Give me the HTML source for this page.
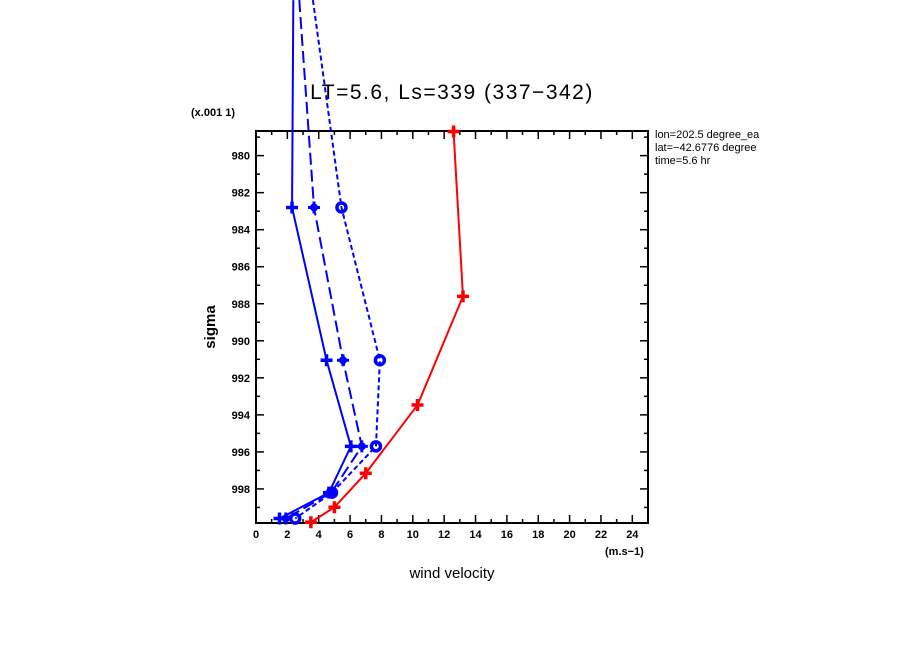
<!DOCTYPE html>
<html><head><meta charset="utf-8"><style>
body{margin:0;background:#fff;}
svg{display:block;font-family:"Liberation Sans",sans-serif;}
</style></head><body>
<svg id="c" width="904" height="654" viewBox="0 0 904 654">
<text x="452" y="99" text-anchor="middle" font-size="21" letter-spacing="1.5">LT=5.6, Ls=339 (337−342)</text>
<text x="191" y="116" font-size="11" font-weight="bold">(x.001 1)</text>
<text x="655" y="138" font-size="11">lon=202.5 degree_ea</text>
<text x="655" y="151" font-size="11">lat=−42.6776 degree</text>
<text x="655" y="164" font-size="11">time=5.6 hr</text>
<rect x="780" y="128" width="124" height="40" fill="#fff"/>
<text x="605" y="555" font-size="11" font-weight="bold">(m.s−1)</text>
<text x="452" y="578" text-anchor="middle" font-size="15">wind velocity</text>
<text x="215" y="327" text-anchor="middle" font-size="15" font-weight="bold" transform="rotate(-90 215 327)">sigma</text>
<g id="axes"></g><g id="series"></g>
</svg>
<script>
const xTicks=[0,2,4,6,8,10,12,14,16,18,20,22,24];
const yTicks=[980,982,984,986,988,990,992,994,996,998];
const sigSolid=[971.6,982.8,991.05,995.7,998.2,999.6];
const valSolid=[2.38,2.3,4.5,6.05,4.65,1.5];
const sigLong=[971.6,982.8,991.05,995.7,998.2,999.6];
const valLong=[2.76,3.7,5.55,6.75,4.8,1.9];
const sigShort=[971.6,982.8,991.05,995.7,998.2,999.6];
const valShort=[3.63,5.45,7.9,7.65,4.85,2.5];
const sigRed=[978.7,987.6,993.47,997.15,998.99,999.8];
const valRed=[12.6,13.2,10.3,7.0,5.0,3.5];
const X0=256,X1=648,Y0=131,Y1=523,XMIN=0,XMAX=25,SMIN=978.67,SMAX=999.84;
const sx=v=>X0+(v-XMIN)/(XMAX-XMIN)*(X1-X0);
const sy=s=>Y0+(s-SMIN)/(SMAX-SMIN)*(Y1-Y0);
const NS="http://www.w3.org/2000/svg";
function mk(t,a,p){const e=document.createElementNS(NS,t);for(const k in a)e.setAttribute(k,a[k]);p.appendChild(e);return e;}
const ax=document.getElementById('axes');
const frame=mk('rect',{x:X0,y:Y0,width:X1-X0,height:Y1-Y0,fill:'none',stroke:'#000','stroke-width':2},ax);


for(let v=0;v<=25;v++){const x=sx(v),L=v%2==0?8:4;
 mk('line',{x1:x,y1:Y1,x2:x,y2:Y1-L,stroke:'#000','stroke-width':1.5},ax);
 mk('line',{x1:x,y1:Y0,x2:x,y2:Y0+L,stroke:'#000','stroke-width':1.5},ax);}
xTicks.forEach(v=>{const t=mk('text',{x:sx(v),y:Y1+15,'text-anchor':'middle','font-size':11,'font-weight':'bold'},ax);t.textContent=v;
 
 });
for(let s=979;s<=999;s++){const y=sy(s),L=s%2==0?8:4;
 mk('line',{x1:X0,y1:y,x2:X0+L,y2:y,stroke:'#000','stroke-width':1.5},ax);
 mk('line',{x1:X1,y1:y,x2:X1-L,y2:y,stroke:'#000','stroke-width':1.5},ax);}
yTicks.forEach(s=>{const t=mk('text',{x:X0-6,y:sy(s)+4,'text-anchor':'end','font-size':11,'font-weight':'bold'},ax);t.textContent=s;
 
 });
const sg=document.getElementById('series');
function series(sig,val,color,dash,marker,name){
 const g=mk('g',{},sg);
 
 
 mk('polyline',{points:sig.map((s,i)=>sx(val[i])+','+sy(s)).join(' '),fill:'none',stroke:color,'stroke-width':2,'stroke-dasharray':dash},g);
 sig.forEach((s,i)=>{if(s<SMIN)return;const x=sx(val[i]),y=sy(s);
  if(marker=='o'){mk('circle',{cx:x,cy:y,r:4.5,fill:'none',stroke:color,'stroke-width':3.5},g);}
  else if(marker=='x'){mk('circle',{cx:x,cy:y,r:4,fill:color},g);mk('path',{d:`M${x-6} ${y}H${x+6}M${x} ${y-6}V${y+6}`,stroke:color,'stroke-width':3},g);}
  else{mk('path',{d:`M${x-6} ${y}H${x+6}M${x} ${y-6}V${y+6}`,stroke:color,'stroke-width':3.5},g);}
 });}
series(sigSolid,valSolid,'#0000ff','none','+','series-solid-blue');
series(sigLong,valLong,'#0000ff','12 5','x','series-longdash-blue');
series(sigShort,valShort,'#0000ff','5 3','o','series-shortdash-blue');
series(sigRed,valRed,'#ff0000','none','+','series-red');
</script>
</body></html>
